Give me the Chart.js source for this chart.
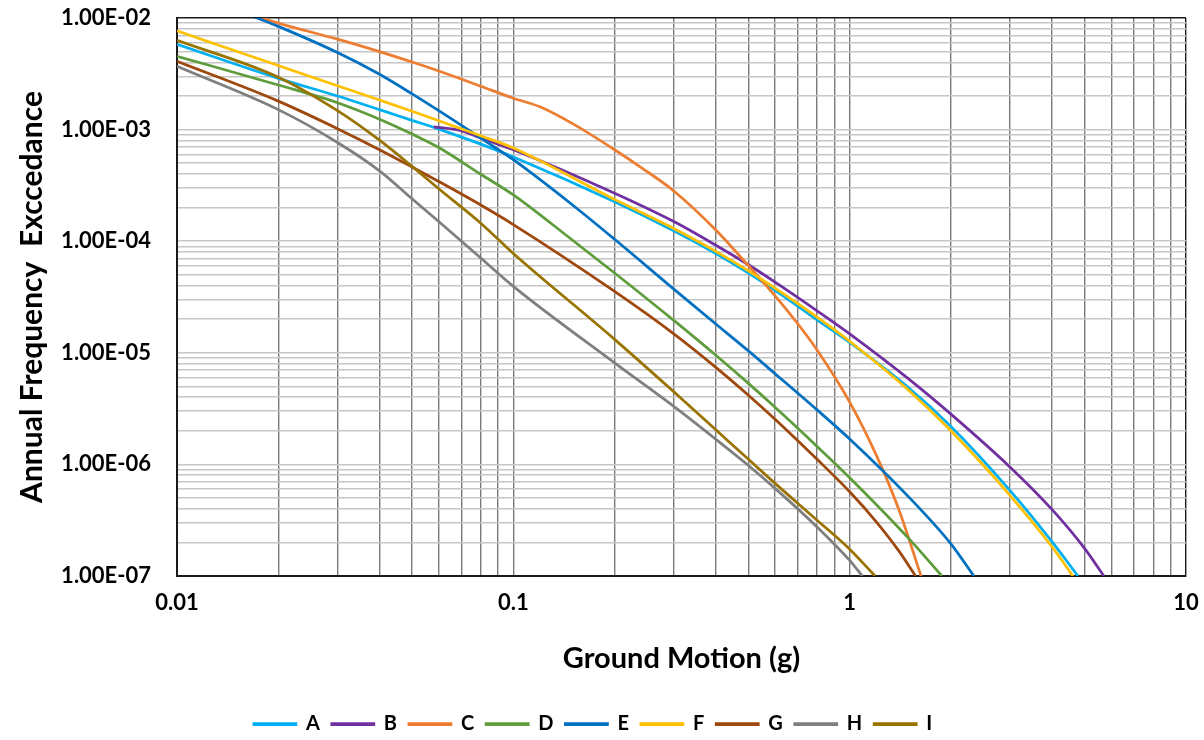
<!DOCTYPE html>
<html>
<head>
<meta charset="utf-8">
<script src="https://cdn.jsdelivr.net/npm/chart.js@4.4.1/dist/chart.umd.min.js"></script>
<style>
html,body{margin:0;padding:0;background:#fff;}
canvas{display:block;}
</style>
</head>
<body>
<canvas id="c" width="1204" height="740"></canvas>
<script>
// ---- Data (ground motion in g, annual frequency of exceedance) ----
const seriesNames = ['A','B','C','D','E','F','G','H','I'];

const gmA  = [0.01,0.02,0.03,0.04,0.05,0.06,0.08,0.1,0.2,0.3,0.4,0.5,0.6,0.8,1,1.5,2,3,4,4.77];
const afeA = [5.81e-3,2.88e-3,2.0e-3,1.51e-3,1.21e-3,1.01e-3,7.41e-4,5.69e-4,2.26e-4,1.24e-4,7.76e-5,5.19e-5,3.63e-5,1.97e-5,1.24e-5,4.84e-6,2.19e-6,5.82e-7,2.02e-7,1e-7];

const gmB  = [0.058,0.07,0.08,0.1,0.2,0.3,0.4,0.5,0.6,0.8,1,1.5,2,3,4,5,5.7];
const afeB = [1.06e-3,9.8e-4,8.4e-4,6.6e-4,2.69e-4,1.5e-4,9.2e-5,6.15e-5,4.3e-5,2.38e-5,1.48e-5,5.81e-6,2.82e-6,9.44e-7,3.93e-7,1.76e-7,1e-7];

const gmC  = [0.01,0.02,0.03,0.04,0.05,0.06,0.08,0.1,0.12,0.15,0.2,0.24,0.3,0.4,0.5,0.6,0.7,0.8,1,1.2,1.4,1.63];
const afeC = [1.74e-2,9.0e-3,6.46e-3,5.0e-3,4.03e-3,3.35e-3,2.45e-3,1.91e-3,1.6e-3,1.13e-3,6.6e-4,4.57e-4,2.82e-4,1.26e-4,6.03e-5,3.24e-5,1.83e-5,1.06e-5,3.62e-6,1.21e-6,3.94e-7,1e-7];

const gmD  = [0.01,0.02,0.03,0.04,0.05,0.06,0.08,0.1,0.15,0.2,0.3,0.4,0.5,0.6,0.8,1,1.5,1.88];
const afeD = [4.54e-3,2.51e-3,1.74e-3,1.24e-3,9.12e-4,6.92e-4,3.98e-4,2.6e-4,1.02e-4,5.19e-5,1.95e-5,9.5e-6,5.32e-6,3.25e-6,1.45e-6,7.6e-7,2.16e-7,1e-7];

const gmE  = [0.01,0.0173,0.02,0.03,0.04,0.05,0.06,0.08,0.1,0.15,0.2,0.3,0.4,0.5,0.6,0.8,1,1.5,2,2.34];
const afeE = [1.83e-2,1.0e-2,8.41e-3,4.9e-3,3.13e-3,2.09e-3,1.48e-3,8.41e-4,5.37e-4,2.11e-4,1.04e-4,3.72e-5,1.81e-5,1.04e-5,6.5e-6,3.08e-6,1.69e-6,5.09e-7,1.94e-7,1e-7];

const gmF  = [0.01,0.02,0.03,0.04,0.05,0.06,0.08,0.1,0.2,0.3,0.4,0.5,0.6,0.8,1,1.5,2,3,4,4.61];
const afeF = [7.66e-3,3.75e-3,2.47e-3,1.84e-3,1.46e-3,1.2e-3,8.8e-4,6.84e-4,2.37e-4,1.3e-4,8.1e-5,5.42e-5,3.8e-5,2.09e-5,1.27e-5,4.6e-6,2.0e-6,5.26e-7,1.82e-7,1e-7];

const gmG  = [0.01,0.02,0.03,0.04,0.05,0.06,0.08,0.1,0.2,0.3,0.4,0.5,0.6,0.8,1,1.2,1.4,1.57];
const afeG = [4.09e-3,1.8e-3,1.02e-3,6.61e-4,4.62e-4,3.43e-4,2.11e-4,1.41e-4,3.55e-5,1.48e-5,7.41e-6,4.17e-6,2.54e-6,1.11e-6,5.69e-7,3.06e-7,1.68e-7,1e-7];

const gmH  = [0.01,0.02,0.03,0.04,0.05,0.06,0.08,0.1,0.2,0.3,0.4,0.5,0.6,0.8,1,1.09];
const afeH = [3.69e-3,1.51e-3,7.67e-4,4.27e-4,2.4e-4,1.5e-4,7.08e-5,3.94e-5,8.13e-6,3.31e-6,1.68e-6,9.77e-7,6.1e-7,2.75e-7,1.38e-7,1e-7];

const gmI  = [0.01,0.02,0.03,0.04,0.05,0.06,0.08,0.1,0.2,0.3,0.4,0.5,0.6,0.8,1,1.19];
const afeI = [6.31e-3,2.95e-3,1.48e-3,8.04e-4,4.68e-4,2.95e-4,1.45e-4,7.76e-5,1.32e-5,4.47e-6,2.04e-6,1.11e-6,6.76e-7,3.16e-7,1.74e-7,1e-7];

// Axis tick labels (decades)
const xDecades = [0.01, 0.1, 1, 10];
const yDecades = [1e-7, 1e-6, 1e-5, 1e-4, 1e-3, 1e-2];

// ---- Styling ----
const colors = ['#00B0F0','#7030A0','#ED7D31','#5E9C3C','#0070C0','#FFC000','#9E480E','#7F7F7F','#997300'];
const FONT = 'Lato, "Open Sans", "DejaVu Sans", sans-serif';

const xs = [gmA,gmB,gmC,gmD,gmE,gmF,gmG,gmH,gmI];
const ys = [afeA,afeB,afeC,afeD,afeE,afeF,afeG,afeH,afeI];

function minorTicks(decades){
  const out = [];
  for (let i = 0; i < decades.length - 1; i++) {
    for (let m = 1; m <= 9; m++) out.push(parseFloat((decades[i]*m).toPrecision(6)));
  }
  out.push(decades[decades.length-1]);
  return out;
}
const xTicks = minorTicks(xDecades);
const yTicks = minorTicks(yDecades);
const isDecade = v => Math.abs(Math.log10(v) - Math.round(Math.log10(v))) < 1e-9;

const datasets = seriesNames.map((name, i) => ({
  label: name,
  data: xs[i].map((x, j) => ({x: x, y: ys[i][j]})),
  borderColor: colors[i],
  backgroundColor: colors[i],
  borderWidth: 2.75,
  pointRadius: 0,
  pointHoverRadius: 0,
  cubicInterpolationMode: 'monotone',
  fill: false,
  clip: 0,
  order: seriesNames.length - i
}));

const zeroPad = s => { s.paddingLeft = 0; s.paddingRight = 0; s.paddingTop = 0; s.paddingBottom = 0; };

new Chart(document.getElementById('c').getContext('2d'), {
  type: 'line',
  data: { datasets },
  options: {
    responsive: false,
    animation: false,
    layout: { padding: { left: 0, right: 18, top: 18, bottom: -4 } },
    plugins: {
      legend: {
        position: 'bottom',
        labels: {
          boxWidth: 42, boxHeight: 1, padding: 12, color: '#000',
          font: { family: FONT, size: 20, weight: 'bold' },
          sort: (a, b) => a.datasetIndex - b.datasetIndex
        }
      },
      tooltip: { enabled: false }
    },
    scales: {
      x: {
        type: 'logarithmic', min: 0.01, max: 10,
        afterBuildTicks: s => { s.ticks = xTicks.map(v => ({ value: v })); },
        afterFit: s => { s.height = 126; zeroPad(s); },
        ticks: {
          autoSkip: false, maxRotation: 0, padding: 14, color: '#000',
          font: { family: FONT, size: 22, weight: 'bold' },
          callback: v => isDecade(v) ? String(v) : ''
        },
        grid: {
          drawTicks: false, lineWidth: 1.4,
          color: c => (c.tick && c.tick.value === 10) ? '#1a1a1a' : '#7a7a7a'
        },
        border: { color: '#1a1a1a', width: 2 },
        title: {
          display: true, text: 'Ground Motion (g)', color: '#000',
          font: { family: FONT, size: 29, weight: 'bold' },
          padding: { top: 0, bottom: 26 }
        }
      },
      y: {
        type: 'logarithmic', min: 1e-7, max: 1e-2,
        afterBuildTicks: s => { s.ticks = yTicks.map(v => ({ value: v })); },
        afterFit: s => { s.width = 177; zeroPad(s); },
        ticks: {
          autoSkip: false, padding: 26, color: '#000',
          font: { family: FONT, size: 22, weight: 'bold' },
          callback: v => {
            if (!isDecade(v)) return '';
            const e = Math.round(Math.log10(v));
            return '1.00E-' + String(-e).padStart(2, '0');
          }
        },
        grid: {
          drawTicks: false, lineWidth: 1.5,
          color: c => (c.tick && Math.abs(c.tick.value - 1e-2) < 1e-12) ? '#1a1a1a' : '#c6c6c6'
        },
        border: { color: '#1a1a1a', width: 2 },
        title: {
          display: true, text: 'Annual Frequency  Exccedance', color: '#000',
          font: { family: FONT, size: 30, weight: 'bold' },
          padding: { top: 14, bottom: 0 }
        }
      }
    }
  }
});
</script>
</body>
</html>
